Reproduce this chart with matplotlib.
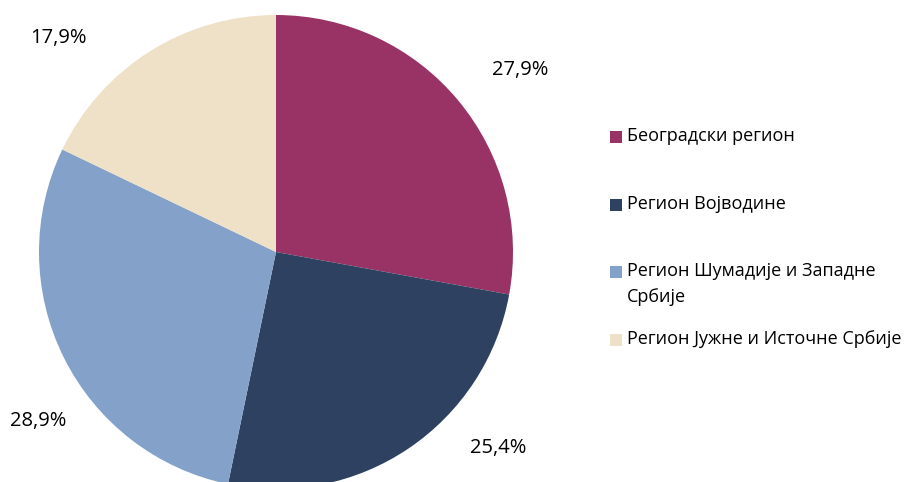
import matplotlib.pyplot as plt
import matplotlib.patches as patches

regions = ["Београдски регион", "Регион Војводине",
           "Регион Шумадије и Западне\nСрбије", "Регион Јужне и Источне Србије"]
shares = [27.9, 25.4, 28.9, 17.9]
pct_labels = ["27,9%", "25,4%", "28,9%", "17,9%"]
colors = ["#993366", "#2F4160", "#84A2C9", "#EFE0C8"]

plt.rcParams['font.family'] = ['Open Sans', 'DejaVu Sans']

W, H = 912, 482
fig = plt.figure(figsize=(W / 100, H / 100), dpi=100)

# pie centre and radius in pixels (from top-left)
cx, cy, r = 276, 252, 237
ax = fig.add_axes([(cx - r) / W, (H - cy - r) / H, 2 * r / W, 2 * r / H])
wedges, _ = ax.pie(shares, colors=colors, startangle=90, counterclock=False,
                   radius=1, wedgeprops=dict(linewidth=0))
for w in wedges:
    w.set_clip_on(False)
ax.set_xlim(-1, 1)
ax.set_ylim(-1, 1)
ax.set_aspect('equal')
ax.axis('off')

# percent label positions (pixel centres)
label_pos = [(520, 70), (498, 448), (38, 421), (58, 38)]
for txt, (px, py) in zip(pct_labels, label_pos):
    fig.text(px / W, 1 - py / H, txt, ha='center', va='center', fontsize=14.5)

# legend drawn by hand
entry_y = [137, 205, 272, 340]
for name, col, ey in zip(regions, colors, entry_y):
    fig.patches.append(patches.Rectangle((610 / W, 1 - (ey + 6) / H), 12 / W, 12 / H,
                                         transform=fig.transFigure, facecolor=col,
                                         edgecolor='none'))
    fig.text(627 / W, 1 - (ey - 10) / H, name, ha='left', va='top', fontsize=13,
             linespacing=1.6)

fig.savefig("out.png", dpi=100)
